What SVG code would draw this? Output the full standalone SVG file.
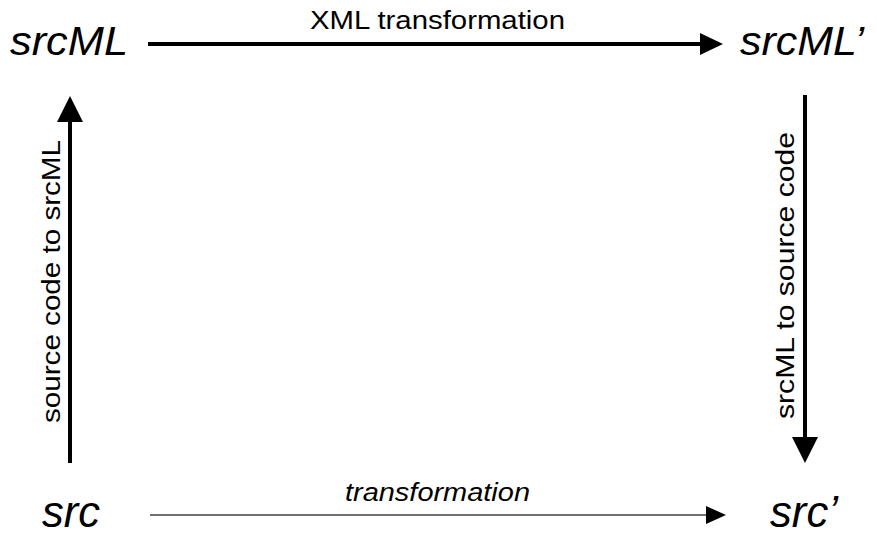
<svg xmlns="http://www.w3.org/2000/svg" width="877" height="535" viewBox="0 0 877 535">
<style>
text{font-family:"Liberation Sans",Arial,sans-serif;fill:#000}
.node{font-style:italic;font-size:40px}
.nodeb{font-style:italic;font-size:44px}
.lbl{font-size:25px}
.vlbl{font-size:26px}
.thick{stroke:#000;stroke-width:4;fill:none}
.thin{stroke:#707070;stroke-width:2;fill:none}
</style>
<defs>
<marker id="hTop" markerUnits="userSpaceOnUse" markerWidth="23" markerHeight="22" refX="0" refY="11" orient="auto"><path d="M0,0 L23,11 L0,22 z" fill="#000"/></marker>
<marker id="hV" markerUnits="userSpaceOnUse" markerWidth="26" markerHeight="26" refX="0" refY="13" orient="auto"><path d="M0,0 L26,13 L0,26 z" fill="#000"/></marker>
<marker id="hB" markerUnits="userSpaceOnUse" markerWidth="20" markerHeight="18" refX="0" refY="9" orient="auto"><path d="M0,0 L20,9 L0,18 z" fill="#000"/></marker>
</defs>
<g id="connectors">
<g id="e-xml"><line class="thick" x1="148" y1="44" x2="700" y2="44" marker-end="url(#hTop)"/>
<text class="lbl" x="310" y="29" textLength="255" lengthAdjust="spacingAndGlyphs">XML transformation</text></g>
<g id="e-s2x"><line class="thick" x1="70" y1="463" x2="70" y2="122" marker-end="url(#hV)"/>
<text class="vlbl" transform="translate(60,423) rotate(-90)" x="0" y="0" textLength="283" lengthAdjust="spacingAndGlyphs">source code to srcML</text></g>
<g id="e-x2s"><line class="thick" x1="805" y1="95" x2="805" y2="437" marker-end="url(#hV)"/>
<text class="vlbl" transform="translate(794,419) rotate(-90)" x="0" y="0" textLength="287" lengthAdjust="spacingAndGlyphs">srcML to source code</text></g>
<g id="e-tr"><line class="thin" x1="150" y1="515" x2="706" y2="515" marker-end="url(#hB)"/>
<text class="vlbl" style="font-style:italic" x="345" y="501" textLength="185" lengthAdjust="spacingAndGlyphs">transformation</text></g>
</g>
<g id="n-srcML"><text class="node" x="10" y="55" textLength="118" lengthAdjust="spacingAndGlyphs">srcML</text></g>
<g id="n-srcML2"><text class="node" x="740" y="55" textLength="124" lengthAdjust="spacingAndGlyphs">srcML’</text></g>
<g id="n-src"><text class="nodeb" x="42" y="527" textLength="58" lengthAdjust="spacingAndGlyphs">src</text></g>
<g id="n-src2"><text class="nodeb" x="770" y="527" textLength="68" lengthAdjust="spacingAndGlyphs">src’</text></g>
</svg>
